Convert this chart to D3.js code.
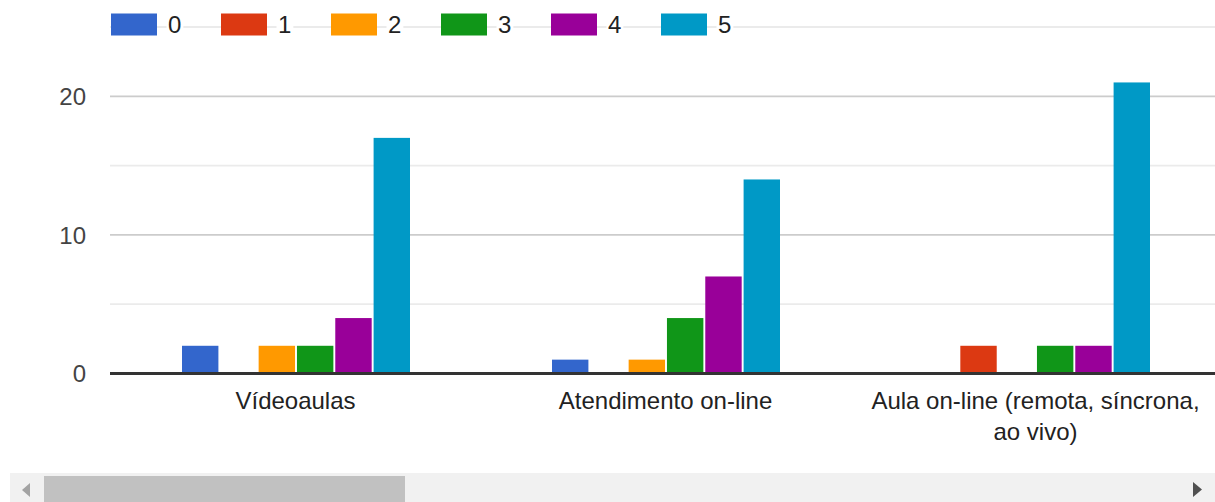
<!DOCTYPE html>
<html>
<head>
<meta charset="utf-8">
<script src="https://cdn.jsdelivr.net/npm/d3@7"></script>
<style>
  html, body { margin: 0; padding: 0; background: #fff; overflow: hidden; }
  svg { display: block; font-family: "Liberation Sans", Arial, sans-serif; }
</style>
</head>
<body>
<svg id="chart" width="1215" height="502"></svg>
<script>
const categories = ["Vídeoaulas", "Atendimento on-line", "Aula on-line (remota, síncrona, ao vivo)"];
const seriesNames = ["0", "1", "2", "3", "4", "5"];
const seriesColors = ["#3366cc", "#dc3912", "#ff9900", "#109618", "#990099", "#0099c6"];
const s0 = [2, 1, 0];
const s1 = [0, 0, 2];
const s2 = [2, 1, 0];
const s3 = [2, 4, 2];
const s4 = [4, 7, 2];
const s5 = [17, 14, 21];
const seriesValues = [s0, s1, s2, s3, s4, s5];
const majorTicks = [0, 10, 20];
const minorTicks = [5, 15, 25];

const svg = d3.select("#chart");
const W = 1215, H = 502;

const y = d3.scaleLinear().domain([0, 25]).range([373.5, 27]);
const x0 = d3.scaleBand().domain(categories).range([111, 1221]).padding(0);
const groupW = 228;
const x1 = d3.scaleBand().domain(seriesNames).range([0, groupW]).paddingInner(0.05).paddingOuter(0);

// minor gridlines
svg.append("g").selectAll("line").data(minorTicks).join("line")
  .attr("x1", 110).attr("x2", W)
  .attr("y1", d => y(d)).attr("y2", d => y(d))
  .attr("stroke", "#ebebeb").attr("stroke-width", 1.8);
// major gridlines
svg.append("g").selectAll("line").data(majorTicks.filter(d => d !== 0)).join("line")
  .attr("x1", 110).attr("x2", W)
  .attr("y1", d => y(d)).attr("y2", d => y(d))
  .attr("stroke", "#cccccc").attr("stroke-width", 1.8);

// y labels
svg.append("g").selectAll("text").data(majorTicks).join("text")
  .attr("x", 86).attr("y", d => y(d)).attr("dy", "0.36em")
  .attr("text-anchor", "end").attr("font-size", 24).attr("fill", "#444")
  .text(d => d);

// bars
const data = [];
categories.forEach((c, ci) => {
  seriesNames.forEach((s, si) => {
    data.push({ cat: c, ser: s, val: seriesValues[si][ci], color: seriesColors[si] });
  });
});
const offset = (x0.bandwidth() - groupW) / 2;
svg.append("g").selectAll("rect").data(data.filter(d => d.val > 0)).join("rect")
  .attr("x", d => x0(d.cat) + offset + x1(d.ser))
  .attr("width", x1.bandwidth())
  .attr("y", d => y(d.val))
  .attr("height", d => y(0) - y(d.val))
  .attr("fill", d => d.color);

// baseline
svg.append("line").attr("x1", 110).attr("x2", W)
  .attr("y1", y(0)).attr("y2", y(0))
  .attr("stroke", "#333").attr("stroke-width", 3);

// category labels with wrapping
const maxW = 345;
const catG = svg.append("g");
categories.forEach(c => {
  const cx = x0(c) + x0.bandwidth() / 2 - 0.5;
  const t = catG.append("text").attr("text-anchor", "middle").attr("font-size", 24).attr("fill", "#222");
  const words = c.split(" ");
  let lines = [];
  let line = [];
  const probe = catG.append("text").attr("font-size", 24);
  words.forEach(w => {
    const test = line.concat([w]).join(" ");
    probe.text(test);
    if (probe.node().getComputedTextLength() > maxW && line.length) {
      lines.push(line.join(" "));
      line = [w];
    } else {
      line.push(w);
    }
  });
  lines.push(line.join(" "));
  probe.remove();
  lines.forEach((l, i) => {
    t.append("tspan").attr("x", cx).attr("y", 409 + i * 31).text(l);
  });
});

// legend
const legG = svg.append("g");
seriesNames.forEach((s, i) => {
  const lx = 111 + i * 110;
  const g = legG.append("g");
  const bg = g.append("rect").attr("fill", "#fff");
  g.append("rect").attr("x", lx).attr("y", 13.5).attr("width", 46).attr("height", 22)
    .attr("fill", seriesColors[i]);
  const tx = g.append("text").attr("x", lx + 57).attr("y", 33.3)
    .attr("font-size", 24).attr("fill", "#222").text(s);
  const tw = tx.node().getComputedTextLength();
  bg.attr("x", lx + 55.5).attr("y", 13).attr("width", tw + 3.5).attr("height", 24);
});

// scrollbar
const sb = svg.append("g");
sb.append("rect").attr("x", 10).attr("y", 473).attr("width", W - 10).attr("height", H - 473).attr("fill", "#f1f1f1");
sb.append("rect").attr("x", 44).attr("y", 476).attr("width", 361).attr("height", H - 476).attr("fill", "#c1c1c1");
sb.append("path").attr("d", "M30,483 L30,497 L22,490 Z").attr("fill", "#a3a3a3");
sb.append("path").attr("d", "M1193,482 L1193,497 L1202,489.5 Z").attr("fill", "#505050");
</script>
</body>
</html>
